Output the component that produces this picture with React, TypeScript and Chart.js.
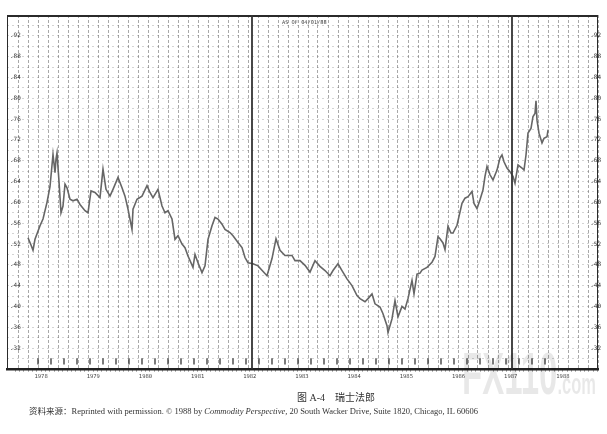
import { useEffect, useRef } from "react";
import { Chart, registerables } from "chart.js";

Chart.register(...registerables);

// week 0 = 1 Apr 1978, week 520 = 1 Apr 1988 (AS OF 04/01/88)
const weeks = [
  0, 3, 5, 7, 12, 15, 19, 22, 25, 27, 28, 29, 31, 33, 35, 37, 39, 42, 45, 49,
  52, 57, 60, 63, 67, 72, 75, 78, 82, 85, 90, 94, 97, 100, 104, 105, 109, 114,
  119, 122, 125, 130, 134, 137, 140, 144, 147, 150, 154, 157, 160, 165, 167,
  170, 174, 177, 180, 184, 187, 190, 194, 197, 202, 205, 210, 214, 217, 220,
  225, 230, 239, 244, 248, 252, 257, 264, 267, 272, 277, 282, 287, 292, 297,
  302, 305, 310, 314, 319, 324, 329, 332, 337, 340, 344, 347, 352, 355, 359,
  360, 364, 367, 370, 374, 377, 380, 384, 386, 389, 392, 394, 399, 404, 407,
  410, 412, 415, 417, 420, 423, 425, 429, 431, 434, 437, 440, 444, 446, 449,
  452, 455, 457, 459, 462, 465, 469, 472, 474, 476, 479, 482, 485, 487, 490,
  494, 496, 498, 500, 503, 505, 507, 508, 509, 511, 514, 516, 519, 520,
];

// Swiss franc, US$ per franc (weekly chart)
const prices = [
  0.532, 0.518, 0.508, 0.529, 0.555, 0.568, 0.6, 0.63, 0.692, 0.657, 0.683,
  0.695, 0.64, 0.58, 0.593, 0.635, 0.628, 0.606, 0.603, 0.606, 0.596, 0.584,
  0.58, 0.622, 0.619, 0.609, 0.664, 0.625, 0.612, 0.625, 0.648, 0.628, 0.612,
  0.587, 0.548, 0.587, 0.606, 0.612, 0.632, 0.619, 0.609, 0.625, 0.593, 0.58,
  0.584, 0.568, 0.529, 0.536, 0.52, 0.513, 0.497, 0.475, 0.5, 0.484, 0.465,
  0.478, 0.529, 0.555, 0.571, 0.568, 0.558, 0.548, 0.542, 0.536, 0.523, 0.513,
  0.494, 0.484, 0.482, 0.478, 0.459, 0.492, 0.53, 0.508, 0.498, 0.498, 0.488,
  0.488, 0.479, 0.466, 0.488, 0.477, 0.469, 0.459, 0.469, 0.482, 0.469, 0.453,
  0.44, 0.421, 0.415, 0.409, 0.415, 0.424, 0.405, 0.399, 0.386, 0.363, 0.35,
  0.376, 0.411, 0.38, 0.4, 0.395, 0.415, 0.45, 0.424, 0.462, 0.464, 0.47,
  0.475, 0.485, 0.496, 0.534, 0.53, 0.522, 0.509, 0.554, 0.541, 0.541, 0.556,
  0.573, 0.598, 0.608, 0.611, 0.621, 0.598, 0.588, 0.605, 0.624, 0.65, 0.669,
  0.653, 0.643, 0.662, 0.685, 0.691, 0.678, 0.666, 0.659, 0.65, 0.637, 0.672,
  0.666, 0.662, 0.691, 0.733, 0.742, 0.765, 0.771, 0.795, 0.758, 0.733, 0.714,
  0.723, 0.726, 0.739,
];

const yearLabels = [
  "1978", "1979", "1980", "1981", "1982", "1983", "1984", "1985", "1986", "1987", "1988",
];

// quarterly contract markers along the bottom strip
const contractMarks = [
  10, 23, 36, 49, 62, 75, 88, 101, 114, 127, 140, 153, 166, 179, 192, 205, 218,
  231, 244, 257, 270, 283, 296, 309, 322, 335, 348, 361, 374, 387, 400, 413,
  426, 439, 452, 465, 478, 491, 504, 517,
];

// heavy vertical rules where chart pages were joined
const pageBreaks = [224, 484];

const X_MIN = -21;
const X_MAX = 570;
const WEEKS_PER_YEAR = 52.18;
const JAN_1978 = -13;

const monthTicks = Array.from({ length: (yearLabels.length + 1) * 12 }, (_, i) => ({
  value: JAN_1978 + (i / 12) * WEEKS_PER_YEAR,
})).filter((t) => t.value >= X_MIN && t.value <= X_MAX);

const monoFont = "'DejaVu Sans Mono', monospace";

const priceLabel = (v: any) => {
  const r = Math.round(Number(v) * 100);
  return r % 4 === 0 && r >= 32 && r <= 92 ? "." + r : "";
};

const framePlugin = {
  id: "frame",
  afterDatasetsDraw(chart: any) {
    const { ctx, chartArea: a, scales } = chart;
    ctx.save();
    ctx.strokeStyle = "#2a2a2a";
    ctx.lineWidth = 1;
    ctx.beginPath();
    ctx.moveTo(a.left + 0.5, a.top);
    ctx.lineTo(a.left + 0.5, a.bottom);
    ctx.moveTo(a.right - 0.5, a.top);
    ctx.lineTo(a.right - 0.5, a.bottom);
    ctx.stroke();
    ctx.lineWidth = 2;
    ctx.beginPath();
    ctx.moveTo(a.left, a.top + 1);
    ctx.lineTo(a.right, a.top + 1);
    ctx.stroke();
    ctx.lineWidth = 1.8;
    ctx.strokeStyle = "#333";
    pageBreaks.forEach((w) => {
      const x = scales.x.getPixelForValue(w);
      ctx.beginPath();
      ctx.moveTo(x, a.top);
      ctx.lineTo(x, a.bottom);
      ctx.stroke();
    });
    ctx.restore();
  },
};

function SwissFrancChart() {
  const canvasRef = useRef<HTMLCanvasElement | null>(null);

  useEffect(() => {
    document.body.style.margin = "0";
    if (!canvasRef.current) return;

    const chart = new Chart(canvasRef.current, {
      type: "line",
      data: {
        datasets: [
          {
            data: weeks.map((w, i) => ({ x: w, y: prices[i] })),
            borderColor: "#666",
            borderWidth: 1.6,
            pointRadius: 0,
            tension: 0,
            xAxisID: "x",
            yAxisID: "y",
          },
          {
            data: contractMarks.map((w) => ({ x: w, y: 0.2945 })),
            showLine: false,
            pointStyle: "line",
            rotation: 90,
            pointRadius: 3.2,
            borderWidth: 1.3,
            borderColor: "#333",
            xAxisID: "x",
            yAxisID: "y",
          },
        ],
      },
      options: {
        animation: false,
        responsive: true,
        maintainAspectRatio: false,
        layout: { padding: { left: 1, right: 3, top: 15, bottom: 4 } },
        plugins: {
          legend: { display: false },
          tooltip: { enabled: false },
        },
        scales: {
          x: {
            type: "linear",
            position: "bottom",
            min: X_MIN,
            max: X_MAX,
            ticks: { display: false, stepSize: 10 },
            grid: { color: "rgba(40,40,40,0.5)", lineWidth: 0.8, drawTicks: false },
            border: { display: false, dash: [3, 2] },
          },
          xy: {
            type: "linear",
            position: "bottom",
            min: X_MIN,
            max: X_MAX,
            afterBuildTicks: (scale: any) => {
              scale.ticks = monthTicks.map((t) => ({ value: t.value }));
            },
            ticks: {
              autoSkip: false,
              maxRotation: 0,
              padding: 2,
              color: "#444",
              font: { size: 5.5, family: monoFont },
              callback: (_v: any, i: number) =>
                i % 12 === 6 && yearLabels[Math.floor(i / 12)] ? yearLabels[Math.floor(i / 12)] : "",
            },
            grid: {
              drawOnChartArea: false,
              drawTicks: true,
              tickLength: 2.5,
              tickColor: "#333",
              tickWidth: 0.9,
            },
            border: { display: true, width: 2.5, color: "#222" },
          },
          y: {
            position: "left",
            min: 0.28,
            max: 0.96,
            ticks: {
              stepSize: 0.02,
              mirror: true,
              padding: 3,
              color: "#333",
              font: { size: 6, family: monoFont },
              callback: priceLabel,
            },
            grid: { color: "rgba(80,80,80,0.35)", lineWidth: 0.7, drawTicks: false },
            border: { display: false, dash: [2, 3] },
          },
          y2: {
            position: "right",
            min: 0.28,
            max: 0.96,
            ticks: {
              stepSize: 0.02,
              mirror: true,
              padding: 3,
              color: "#333",
              font: { size: 6, family: monoFont },
              callback: priceLabel,
            },
            grid: { display: false, drawTicks: false },
            border: { display: false },
          },
        },
      },
      plugins: [framePlugin],
    });

    return () => chart.destroy();
  }, []);

  return <canvas ref={canvasRef} />;
}

export default function App() {
  return (
    <div style={{ position: "relative", width: 607, height: 434, background: "#fff", overflow: "hidden" }}>
      <div style={{ position: "absolute", left: 0, top: 0, width: 607, height: 386 }}>
        <SwissFrancChart />
      </div>
      <div
        style={{
          position: "absolute",
          left: 282,
          top: 19,
          fontFamily: monoFont,
          fontSize: 5.3,
          color: "#444",
          whiteSpace: "pre",
        }}
      >
        AS OF 04/01/88
      </div>
      <div
        style={{
          position: "absolute",
          left: 462,
          top: 344,
          fontFamily: "'Liberation Sans', Arial, sans-serif",
          fontWeight: 700,
          fontSize: 60,
          lineHeight: 1,
          transform: "scaleX(0.55)",
          transformOrigin: "left top",
          color: "rgba(0,0,0,0.09)",
          whiteSpace: "pre",
        }}
      >
        FX110<span style={{ fontSize: 30 }}>.com</span>
      </div>
      <div
        style={{
          position: "absolute",
          left: 297,
          top: 389,
          fontFamily: "'Liberation Serif', 'Noto Sans CJK SC', serif",
          fontSize: 10,
          color: "#333",
          whiteSpace: "pre",
        }}
      >
        图 A-4{"\u3000"}瑞士法郎
      </div>
      <div
        style={{
          position: "absolute",
          left: 29,
          top: 404,
          fontFamily: "'Liberation Serif', 'Noto Sans CJK SC', serif",
          fontSize: 8.5,
          color: "#333",
          whiteSpace: "pre",
        }}
      >
        资料来源：Reprinted with permission. © 1988 by <i>Commodity Perspective</i>, 20 South Wacker Drive,
        Suite 1820, Chicago, IL 60606
      </div>
    </div>
  );
}
